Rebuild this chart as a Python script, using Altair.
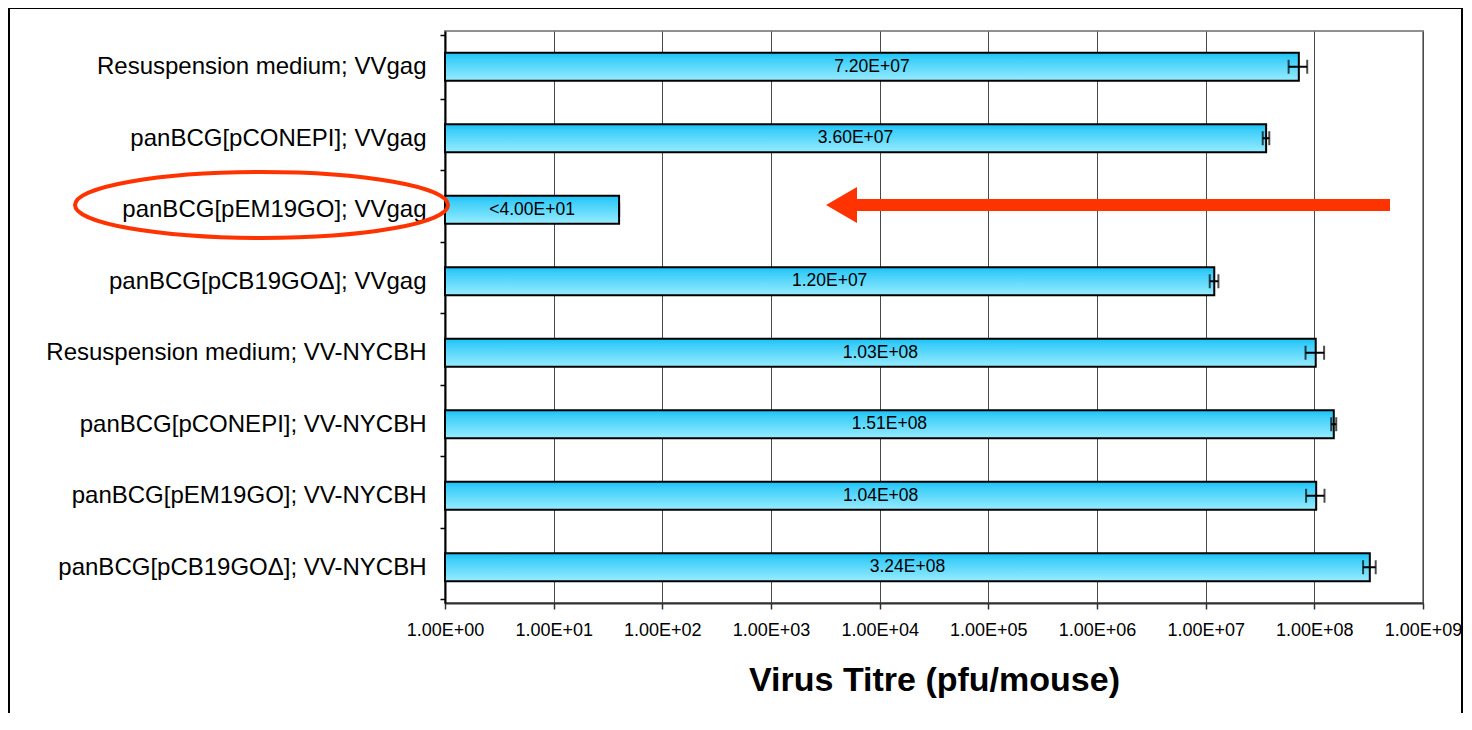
import altair as alt
import pandas as pd

categories = [
    "Resuspension medium; VVgag",
    "panBCG[pCONEPI]; VVgag",
    "panBCG[pEM19GO]; VVgag",
    "panBCG[pCB19GOΔ]; VVgag",
    "Resuspension medium; VV-NYCBH",
    "panBCG[pCONEPI]; VV-NYCBH",
    "panBCG[pEM19GO]; VV-NYCBH",
    "panBCG[pCB19GOΔ]; VV-NYCBH",
]
values = [7.20e7, 3.60e7, 4.0e1, 1.20e7, 1.03e8, 1.51e8, 1.04e8, 3.24e8]
errors = [1.4e7, 2.5e6, 0.0, 1.1e6, 2.0e7, 8.0e6, 2.0e7, 4.3e7]
bar_labels = ["7.20E+07", "3.60E+07", "<4.00E+01", "1.20E+07",
              "1.03E+08", "1.51E+08", "1.04E+08", "3.24E+08"]
x_ticks = [1, 1e1, 1e2, 1e3, 1e4, 1e5, 1e6, 1e7, 1e8, 1e9]
x_title = "Virus Titre (pfu/mouse)"

FONT = "Liberation Sans"

df = pd.DataFrame({"cat": categories, "value": values, "err": errors, "label": bar_labels})

base = alt.Chart(df).transform_calculate(
    lo="datum.value - datum.err",
    hi="datum.value + datum.err",
    start="1",
    mid="sqrt(datum.value)",
)

y_enc = alt.Y(
    "cat:N",
    sort=categories,
    title=None,
    axis=alt.Axis(
        labelFont=FONT, labelFontSize=24, labelColor="#000000", labelLimit=700,
        labelPadding=14, tickBand="extent", tickSize=5, tickColor="#000000",
        tickWidth=1.5, domainColor="#000000", domainWidth=2, grid=False,
    ),
)

x_scale = alt.Scale(type="log", domain=[1, 1e9])

bars = base.mark_bar(
    size=28,
    stroke="#000000",
    strokeWidth=2,
    color=alt.Gradient(
        gradient="linear", x1=0, x2=0, y1=0, y2=1,
        stops=[alt.GradientStop(offset=0, color="#16c2f5"),
               alt.GradientStop(offset=0.2, color="#3acdf9"),
               alt.GradientStop(offset=1, color="#98ecff")],
    ),
).encode(
    x=alt.X(
        "value:Q", scale=x_scale,
        axis=alt.Axis(
            values=x_ticks,
            labelExpr="'1.00E+' + (round(log(datum.value)/LN10) < 10 ? '0' : '') + round(log(datum.value)/LN10)",
            labelFont=FONT, labelFontSize=18, labelColor="#000000", labelPadding=12,
            labelOverlap=False, labelFlush=False, labelBound=False,
            tickSize=6, tickColor="#303030", tickWidth=1.5,
            domainColor="#303030", domainWidth=2,
            grid=True, gridColor="#4a4a4a", gridWidth=1,
            title=x_title, titleFont=FONT, titleFontSize=34, titleFontWeight="bold",
            titleColor="#000000", titlePadding=24,
        ),
    ),
    x2="start:Q",
    y=y_enc,
)

err_rule = base.mark_rule(color="#000000", strokeWidth=2).encode(
    x=alt.X("lo:Q", scale=x_scale), x2="hi:Q", y=alt.Y("cat:N", sort=categories)
)
err_lo = base.mark_tick(color="#000000", size=14, thickness=2).encode(
    x=alt.X("lo:Q", scale=x_scale), y=alt.Y("cat:N", sort=categories)
)
err_hi = base.mark_tick(color="#000000", size=14, thickness=2).encode(
    x=alt.X("hi:Q", scale=x_scale), y=alt.Y("cat:N", sort=categories)
)

texts = base.mark_text(font=FONT, fontSize=17.5, color="#000000", align="center", baseline="middle").encode(
    x=alt.X("mid:Q", scale=x_scale), y=alt.Y("cat:N", sort=categories), text="label:N"
)

one = alt.Data(values=[{"k": 1}])

border = alt.Chart(one).mark_rect(fillOpacity=0, stroke="#000000", strokeWidth=2).encode(
    x=alt.value(-436), x2=alt.value(1017), y=alt.value(-23), y2=alt.value(800)
)

ellipse = alt.Chart(one).mark_point(
    shape="M -1 0 A 1 0.177 0 1 0 1 0 A 1 0.177 0 1 0 -1 0 Z",
    size=373 * 373, filled=False, stroke="#ff3300", strokeWidth=4, opacity=1,
).encode(x=alt.value(-183.5), y=alt.value(174))

shaft = alt.Chart(one).mark_rule(color="#ff3300", strokeWidth=12, strokeCap="butt").encode(
    x=alt.value(410), x2=alt.value(945), y=alt.value(174)
)
head = alt.Chart(one).mark_point(
    shape="M -0.86 0 L 0.86 -1 L 0.86 1 Z",
    size=36 * 36, filled=True, fill="#ff3300", stroke="#ff3300", strokeWidth=0, opacity=1,
).encode(x=alt.value(396.5), y=alt.value(174))

chart = alt.layer(
    bars, err_rule, err_lo, err_hi, texts, border, ellipse, shaft, head
).properties(
    width=978, height=572,
    autosize=alt.AutoSizeParams(type="none"),
    padding={"left": 437, "top": 23, "right": 40, "bottom": 110},
    background="#ffffff",
).configure_view(stroke="#909090", strokeWidth=2)

chart.save("out.html", embed_options={"renderer": "svg", "actions": False})
